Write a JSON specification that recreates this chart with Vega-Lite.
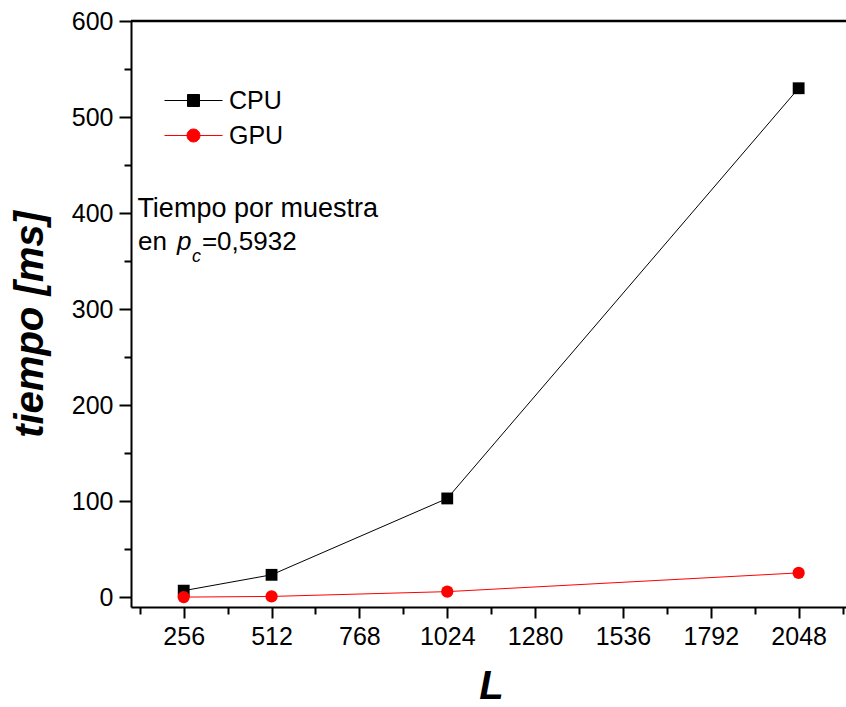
{
  "$schema": "https://vega.github.io/schema/vega-lite/v6.json",
  "width": 715,
  "height": 586,
  "autosize": "none",
  "padding": {"left": 131, "top": 21, "right": 0, "bottom": 100},
  "background": "white",
  "config": {
    "view": {"stroke": null},
    "font": "Liberation Sans",
    "text": {"font": "Liberation Sans", "color": "#000000"}
  },
  "datasets": {
    "timing": [
      {"L": 256, "serie": "CPU", "tiempo": 7},
      {"L": 512, "serie": "CPU", "tiempo": 23.5},
      {"L": 1024, "serie": "CPU", "tiempo": 103},
      {"L": 2048, "serie": "CPU", "tiempo": 530},
      {"L": 256, "serie": "GPU", "tiempo": 0.3},
      {"L": 512, "serie": "GPU", "tiempo": 1},
      {"L": 1024, "serie": "GPU", "tiempo": 6},
      {"L": 2048, "serie": "GPU", "tiempo": 25.5}
    ]
  },
  "layer": [
    {
      "data": {"name": "timing"},
      "mark": {"type": "line", "strokeWidth": 1},
      "encoding": {
        "x": {
          "field": "L", "type": "quantitative",
          "scale": {"domain": [102.4, 2186], "nice": false, "zero": false},
          "axis": {
            "values": [256, 512, 768, 1024, 1280, 1536, 1792, 2048],
            "format": "d", "grid": false, "labelFlush": false, "labelOverlap": false,
            "tickSize": 11, "tickWidth": 2, "tickColor": "#000000",
            "domainWidth": 2, "domainColor": "#000000",
            "labelFont": "Liberation Sans", "labelFontSize": 25, "labelColor": "#000000", "labelPadding": 6,
            "title": "L", "titleFont": "Liberation Sans", "titleFontSize": 40, "titleFontWeight": "bold", "titleFontStyle": "italic",
            "titleColor": "#000000", "titleX": 360, "titleY": 91, "titleBaseline": "alphabetic", "titleAlign": "center"
          }
        },
        "y": {
          "field": "tiempo", "type": "quantitative",
          "scale": {"domain": [-10, 600], "nice": false, "zero": false},
          "axis": {
            "values": [0, 100, 200, 300, 400, 500, 600],
            "format": "d", "grid": false, "labelFlush": false, "labelOverlap": false,
            "tickSize": 12, "tickWidth": 2, "tickColor": "#000000",
            "domainWidth": 2, "domainColor": "#000000",
            "labelFont": "Liberation Sans", "labelFontSize": 25, "labelColor": "#000000", "labelPadding": 6,
            "title": "tiempo [ms]", "titleFont": "Liberation Sans", "titleFontSize": 40, "titleFontWeight": "bold", "titleFontStyle": "italic",
            "titleColor": "#000000", "titleX": -89, "titleY": 303, "titleAngle": 270, "titleBaseline": "alphabetic", "titleAlign": "center"
          }
        },
        "color": {
          "field": "serie", "type": "nominal",
          "scale": {"domain": ["CPU", "GPU"], "range": ["#000000", "#ff0000"]},
          "legend": {
            "orient": "none", "legendX": 50, "legendY": 67, "title": null, "padding": 0,
            "labelFont": "Liberation Sans", "labelFontSize": 25, "labelColor": "#000000",
            "labelOffset": 23, "rowPadding": 9, "symbolSize": 400, "symbolStrokeWidth": 1,
            "encode": {
              "symbols": {
                "update": {
                  "shape": {"signal": "datum.value === 'CPU' ? 'M-2.9,0H2.9M-0.6,-0.6H0.6V0.6H-0.6Z' : 'M-2.9,0H2.9M-0.65,0A0.65,0.65,0,1,0,0.65,0A0.65,0.65,0,1,0,-0.65,0Z'"},
                  "fill": {"signal": "datum.value === 'CPU' ? '#000000' : '#ff0000'"},
                  "stroke": {"signal": "datum.value === 'CPU' ? '#000000' : '#ff0000'"},
                  "strokeWidth": {"value": 1},
                  "opacity": {"value": 1},
                  "fillOpacity": {"value": 1},
                  "strokeOpacity": {"value": 1}
                }
              }
            }
          }
        }
      }
    },
    {
      "data": {"name": "timing"},
      "transform": [{"filter": "datum.serie === 'CPU'"}],
      "mark": {"type": "point", "filled": true, "opacity": 1, "size": 140, "shape": "square"},
      "encoding": {
        "x": {"field": "L", "type": "quantitative", "axis": null},
        "y": {"field": "tiempo", "type": "quantitative", "axis": null},
        "color": {
          "field": "serie", "type": "nominal",
          "legend": {
            "orient": "none", "legendX": 50, "legendY": 67, "title": null, "padding": 0,
            "labelFont": "Liberation Sans", "labelFontSize": 25, "labelColor": "#000000",
            "labelOffset": 23, "rowPadding": 9, "symbolSize": 400, "symbolStrokeWidth": 1,
            "encode": {
              "symbols": {
                "update": {
                  "shape": {"signal": "datum.value === 'CPU' ? 'M-2.9,0H2.9M-0.6,-0.6H0.6V0.6H-0.6Z' : 'M-2.9,0H2.9M-0.65,0A0.65,0.65,0,1,0,0.65,0A0.65,0.65,0,1,0,-0.65,0Z'"},
                  "fill": {"signal": "datum.value === 'CPU' ? '#000000' : '#ff0000'"},
                  "stroke": {"signal": "datum.value === 'CPU' ? '#000000' : '#ff0000'"},
                  "strokeWidth": {"value": 1},
                  "opacity": {"value": 1},
                  "fillOpacity": {"value": 1},
                  "strokeOpacity": {"value": 1}
                }
              }
            }
          }
        }
      }
    },
    {
      "data": {"name": "timing"},
      "transform": [{"filter": "datum.serie === 'GPU'"}],
      "mark": {"type": "point", "filled": true, "opacity": 1, "size": 150, "shape": "circle"},
      "encoding": {
        "x": {"field": "L", "type": "quantitative", "axis": null},
        "y": {"field": "tiempo", "type": "quantitative", "axis": null},
        "color": {
          "field": "serie", "type": "nominal",
          "legend": {
            "orient": "none", "legendX": 50, "legendY": 67, "title": null, "padding": 0,
            "labelFont": "Liberation Sans", "labelFontSize": 25, "labelColor": "#000000",
            "labelOffset": 23, "rowPadding": 9, "symbolSize": 400, "symbolStrokeWidth": 1,
            "encode": {
              "symbols": {
                "update": {
                  "shape": {"signal": "datum.value === 'CPU' ? 'M-2.9,0H2.9M-0.6,-0.6H0.6V0.6H-0.6Z' : 'M-2.9,0H2.9M-0.65,0A0.65,0.65,0,1,0,0.65,0A0.65,0.65,0,1,0,-0.65,0Z'"},
                  "fill": {"signal": "datum.value === 'CPU' ? '#000000' : '#ff0000'"},
                  "stroke": {"signal": "datum.value === 'CPU' ? '#000000' : '#ff0000'"},
                  "strokeWidth": {"value": 1},
                  "opacity": {"value": 1},
                  "fillOpacity": {"value": 1},
                  "strokeOpacity": {"value": 1}
                }
              }
            }
          }
        }
      }
    },
    {
      "data": {"name": "timing"},
      "mark": {"type": "point", "opacity": 0},
      "encoding": {
        "x": {
          "field": "L", "type": "quantitative",
          "axis": {
            "orient": "bottom", "values": [128, 384, 640, 896, 1152, 1408, 1664, 1920, 2176],
            "labels": false, "title": null, "domain": false, "grid": false,
            "tickSize": 7, "tickWidth": 2, "tickColor": "#000000"
          }
        },
        "y": {
          "field": "tiempo", "type": "quantitative",
          "axis": {
            "orient": "left", "values": [50, 150, 250, 350, 450, 550],
            "labels": false, "title": null, "domain": false, "grid": false,
            "tickSize": 7, "tickWidth": 2, "tickColor": "#000000"
          }
        }
      }
    },
    {
      "data": {"values": [{}]},
      "mark": {"type": "rule", "strokeWidth": 2.5, "color": "#000000"},
      "encoding": {"y": {"datum": 600, "type": "quantitative", "axis": null}}
    },
    {
      "data": {"values": [{}]},
      "mark": {"type": "text", "align": "left", "baseline": "alphabetic", "fontSize": 27, "font": "Liberation Sans", "color": "#000000", "text": "Tiempo por muestra"},
      "encoding": {
        "x": {"datum": 121, "type": "quantitative", "axis": null},
        "y": {"datum": 396, "type": "quantitative", "axis": null}
      }
    },
    {
      "data": {"values": [{}]},
      "mark": {"type": "text", "align": "left", "baseline": "alphabetic", "fontSize": 26, "font": "Liberation Sans", "color": "#000000", "text": "en"},
      "encoding": {
        "x": {"datum": 123, "type": "quantitative", "axis": null},
        "y": {"datum": 361.6, "type": "quantitative", "axis": null}
      }
    },
    {
      "data": {"values": [{}]},
      "mark": {"type": "text", "align": "left", "baseline": "alphabetic", "fontSize": 26, "fontStyle": "italic", "font": "Liberation Sans", "color": "#000000", "text": "p"},
      "encoding": {
        "x": {"datum": 236.5, "type": "quantitative", "axis": null},
        "y": {"datum": 361.6, "type": "quantitative", "axis": null}
      }
    },
    {
      "data": {"values": [{}]},
      "mark": {"type": "text", "align": "left", "baseline": "alphabetic", "fontSize": 18, "fontStyle": "italic", "font": "Liberation Sans", "color": "#000000", "text": "c"},
      "encoding": {
        "x": {"datum": 280, "type": "quantitative", "axis": null},
        "y": {"datum": 349, "type": "quantitative", "axis": null}
      }
    },
    {
      "data": {"values": [{}]},
      "mark": {"type": "text", "align": "left", "baseline": "alphabetic", "fontSize": 26, "font": "Liberation Sans", "color": "#000000", "text": "=0,5932"},
      "encoding": {
        "x": {"datum": 309, "type": "quantitative", "axis": null},
        "y": {"datum": 361.6, "type": "quantitative", "axis": null}
      }
    }
  ],
  "resolve": {"axis": {"x": "independent", "y": "independent"}}
}
